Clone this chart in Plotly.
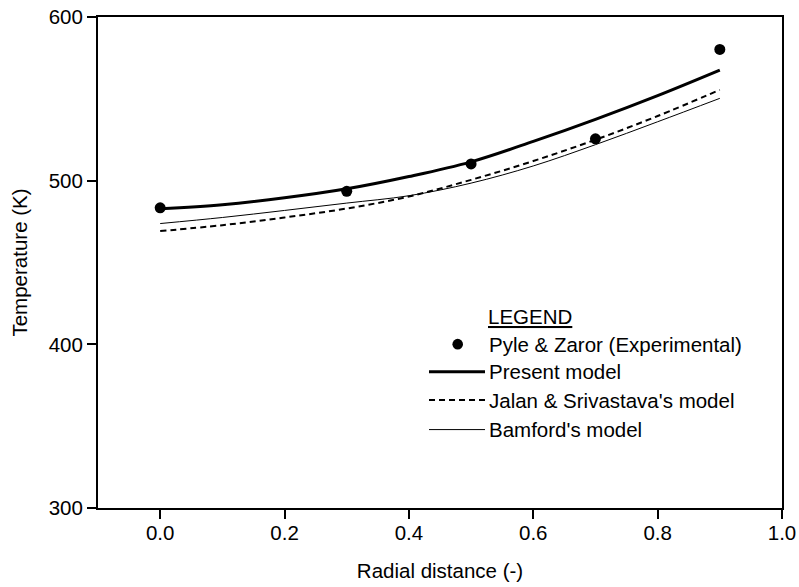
import plotly.graph_objects as go

# ---- data ----
exp_x = [0.0, 0.3, 0.5, 0.7, 0.9]
exp_y = [483.4, 493.5, 510.2, 525.6, 580.2]

model_x = [0.0, 0.1, 0.2, 0.3, 0.4, 0.5, 0.6, 0.7, 0.8, 0.9]
present_y = [482.8, 485.3, 489.5, 495.0, 502.5, 511.5, 524.0, 537.5, 552.0, 567.6]
jalan_y = [469.2, 472.8, 477.5, 483.0, 490.3, 500.5, 512.0, 525.0, 539.5, 555.5]
bamford_y = [473.8, 477.5, 481.8, 486.3, 490.8, 498.5, 509.0, 522.0, 536.0, 550.3]

x_ticks = [0.0, 0.2, 0.4, 0.6, 0.8, 1.0]
y_ticks = [300, 400, 500, 600]

names = ["Pyle & Zaror (Experimental)", "Present model",
         "Jalan & Srivastava's model", "Bamford's model"]

FONT = "Liberation Sans, Arial, sans-serif"
FS = 20.5

W, H = 799, 587
ML, MR, MT, MB = 98, 17, 17, 78.5

fig = go.Figure()
fig.add_trace(go.Scatter(x=model_x, y=present_y, mode="lines", name=names[1],
                         line=dict(color="black", width=3, shape="spline"),
                         showlegend=False))
fig.add_trace(go.Scatter(x=model_x, y=jalan_y, mode="lines", name=names[2],
                         line=dict(color="black", width=2, dash="6px,4px", shape="spline"),
                         showlegend=False))
fig.add_trace(go.Scatter(x=model_x, y=bamford_y, mode="lines", name=names[3],
                         line=dict(color="black", width=1, shape="spline"),
                         showlegend=False))
fig.add_trace(go.Scatter(x=exp_x, y=exp_y, mode="markers", name=names[0],
                         marker=dict(color="black", size=11),
                         showlegend=False))

# ---- custom legend (paper coordinates, given in pixels) ----
L, R, T, B = ML, W - MR, MT, H - MB
def px(x):
    return (x - L) / (R - L)
def py(y):
    return (B - y) / (B - T)

fig.add_annotation(x=px(486), y=py(317), xref="paper", yref="paper",
                   text="<u>LEGEND</u>", showarrow=False, xanchor="left",
                   yanchor="middle", font=dict(family=FONT, size=FS, color="black"))
rows = [344.5, 372, 400.5, 430]
for name, yy in zip(names, rows):
    fig.add_annotation(x=px(487), y=py(yy), xref="paper", yref="paper",
                       text=name, showarrow=False, xanchor="left",
                       yanchor="middle", font=dict(family=FONT, size=FS, color="black"))
r = 5.3
fig.add_shape(type="circle", xref="paper", yref="paper",
              x0=px(457.7 - r), x1=px(457.7 + r), y0=py(rows[0] + r), y1=py(rows[0] - r),
              fillcolor="black", line=dict(color="black", width=0))
styles = [dict(width=3), dict(width=2, dash="6px,4px"), dict(width=1)]
for st, yy in zip(styles, rows[1:]):
    fig.add_shape(type="line", xref="paper", yref="paper",
                  x0=px(429), x1=px(485), y0=py(yy), y1=py(yy),
                  line=dict(color="black", **st))

fig.update_xaxes(range=[-0.1, 1.0], tickvals=x_ticks, tickformat=".1f",
                 showgrid=False, zeroline=False, showline=True, linecolor="black",
                 linewidth=2, mirror=True, ticks="outside", ticklen=9, tickwidth=2,
                 tickcolor="black", automargin=False, ticklabeloverflow="allow",
                 ticklabelstandoff=-4,
                 title=dict(text="Radial distance (-)", font=dict(family=FONT, size=FS, color="black"),
                            standoff=21),
                 tickfont=dict(family=FONT, size=FS, color="black"))
fig.update_yaxes(range=[300, 600], tickvals=y_ticks,
                 showgrid=False, zeroline=False, showline=True, linecolor="black",
                 linewidth=2, mirror=True, ticks="outside", ticklen=9, tickwidth=2,
                 tickcolor="black", automargin=False, ticklabeloverflow="allow",
                 title=dict(text="Temperature (K)", font=dict(family=FONT, size=FS, color="black"),
                            standoff=16),
                 tickfont=dict(family=FONT, size=FS, color="black"))

fig.update_layout(width=W, height=H, plot_bgcolor="white", paper_bgcolor="white",
                  margin=dict(l=ML, r=MR, t=MT, b=MB), showlegend=False,
                  font=dict(family=FONT, size=FS, color="black"))

fig.write_html("out.html", config={"displayModeBar": False, "staticPlot": True},
               post_script="document.body.style.margin='0';document.body.style.overflow='hidden';")
